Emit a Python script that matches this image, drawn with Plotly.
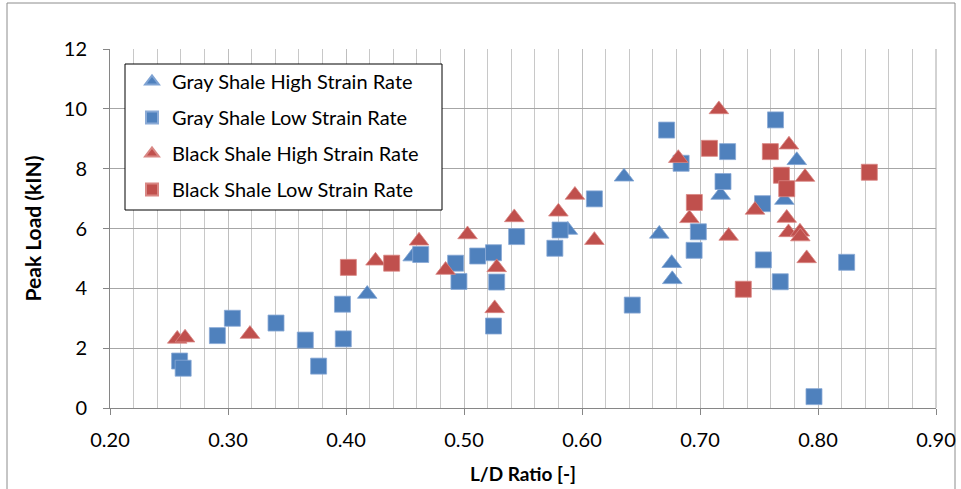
import plotly.graph_objects as go

# Gray shale, high strain rate (blue triangles)
gray_high_x = [0.418, 0.4565, 0.588, 0.6356, 0.6655, 0.676, 0.6765, 0.7175, 0.7715, 0.782]
gray_high_y = [3.81, 5.06, 5.95, 7.73, 5.82, 4.84, 4.30, 7.12, 6.95, 8.28]

# Gray shale, low strain rate (blue squares)
gray_low_x = [0.259, 0.262, 0.291, 0.3037, 0.3407, 0.3655, 0.3768, 0.397, 0.3977, 0.4633,
              0.4929, 0.4957, 0.5116, 0.525, 0.5277, 0.525, 0.5446, 0.577, 0.5814, 0.6105,
              0.6426, 0.6717, 0.684, 0.6986, 0.695, 0.7195, 0.7234, 0.753, 0.7537, 0.764,
              0.768, 0.8243, 0.7966]
gray_low_y = [1.57, 1.33, 2.42, 3.00, 2.84, 2.27, 1.40, 3.47, 2.31, 5.13,
              4.84, 4.23, 5.08, 5.19, 4.21, 2.74, 5.73, 5.34, 5.95, 6.99,
              3.44, 9.29, 8.18, 5.89, 5.27, 7.57, 8.57, 6.83, 4.95, 9.63,
              4.22, 4.87, 0.38]

# Black shale, high strain rate (red triangles)
black_high_x = [0.257, 0.2636, 0.3186, 0.425, 0.4619, 0.4844, 0.503, 0.5277, 0.526, 0.5426,
                0.58, 0.594, 0.6105, 0.6816, 0.691, 0.716, 0.7243, 0.7466, 0.7754, 0.789,
                0.7735, 0.775, 0.7847, 0.785, 0.7904]
black_high_y = [2.31, 2.35, 2.47, 4.92, 5.59, 4.61, 5.80, 4.70, 3.33, 6.37,
                6.56, 7.12, 5.61, 8.35, 6.34, 9.98, 5.75, 6.62, 8.80, 7.72,
                6.35, 5.87, 5.89, 5.73, 5.00]

# Black shale, low strain rate (red squares)
black_low_x = [0.402, 0.4387, 0.6952, 0.708, 0.7596, 0.769, 0.7735, 0.7367, 0.8435]
black_low_y = [4.70, 4.84, 6.87, 8.68, 8.57, 7.78, 7.33, 3.97, 7.88]

x_ticks = [0.2, 0.3, 0.4, 0.5, 0.6, 0.7, 0.8, 0.9]
y_ticks = [0, 2, 4, 6, 8, 10, 12]

BLUE = "#4F81BD"
RED = "#C0504D"
FONT = "Lato"

series = [
    ("Gray Shale High Strain Rate", gray_high_x, gray_high_y, "triangle-up", BLUE, "#7FA3D3", 17),
    ("Gray Shale Low Strain Rate", gray_low_x, gray_low_y, "square", BLUE, "#8AAAD6", 16),
    ("Black Shale High Strain Rate", black_high_x, black_high_y, "triangle-up", RED, "#D98784", 17),
    ("Black Shale Low Strain Rate", black_low_x, black_low_y, "square", RED, "#D98784", 16),
]

fig = go.Figure()
for i, (name, xs, ys, sym, col, edge, sz) in enumerate(series):
    fig.add_trace(go.Scatter(
        x=xs, y=ys, mode="markers", name=name, legendgroup=f"g{i}",
        marker=dict(symbol=sym, size=sz, color=col, line=dict(width=0.8, color=edge)),
    ))

L, R, T, B = 110, 25, 49, 81
W, H = 961, 489
pw, ph = W - L - R, H - T - B

def px_x(p):
    return (p - L) / pw

def px_y(p):
    return (H - B - p) / ph

fig.update_layout(
    width=W, height=H,
    margin=dict(l=L, r=R, t=T, b=B, pad=0, autoexpand=False),
    paper_bgcolor="white", plot_bgcolor="white",
    font=dict(family=FONT, color="black", size=20),
    showlegend=True,
    legend=dict(
        x=px_x(132), y=px_y(62), xanchor="left", yanchor="top",
        bgcolor="rgba(0,0,0,0)", borderwidth=0,
        font=dict(family=FONT, size=20, color="black"),
        tracegroupgap=7, traceorder="grouped",
        itemsizing="constant",
    ),
    xaxis=dict(
        range=[0.2, 0.9], tickvals=x_ticks, ticktext=[f"{v:.2f}" for v in x_ticks],
        showgrid=True, gridcolor="#BEBEBE", gridwidth=1,
        minor=dict(dtick=0.02, tick0=0.2, showgrid=True, gridcolor="#C8C8C8", gridwidth=1, ticks=""),
        showline=True, linecolor="#868686", linewidth=1,
        ticks="outside", ticklen=6, tickcolor="#868686",
        tickfont=dict(family=FONT, size=20, color="black"),
        ticklabelstandoff=8, automargin=False,
        title=dict(text="<b>L/D Ratio [-]</b>", font=dict(family=FONT, size=19, color="black"), standoff=17),
        zeroline=False, mirror=False,
    ),
    yaxis=dict(
        range=[0, 12], tickvals=y_ticks,
        showgrid=True, gridcolor="#A6A6A6", gridwidth=1,
        showline=True, linecolor="#868686", linewidth=1,
        ticks="outside", ticklen=6, tickcolor="#868686",
        tickfont=dict(family=FONT, size=20, color="black"),
        ticklabelstandoff=12, automargin=False,
        title=dict(text="<b>Peak Load (kIN)</b>", font=dict(family=FONT, size=21, color="black"), standoff=16),
        zeroline=False,
    ),
    shapes=[
        dict(type="rect", xref="paper", yref="paper",
             x0=px_x(7), x1=px_x(955), y0=px_y(500), y1=px_y(3),
             line=dict(color="#8C8C8C", width=1), layer="below"),
        dict(type="line", xref="paper", yref="paper",
             x0=1, x1=1, y0=0, y1=1, line=dict(color="#A6A6A6", width=1)),
        dict(type="rect", xref="paper", yref="paper",
             x0=px_x(125), x1=px_x(442), y0=px_y(210), y1=px_y(64),
             fillcolor="white", line=dict(color="black", width=1), layer="above"),
    ],
)

fig.write_html("out.html")
